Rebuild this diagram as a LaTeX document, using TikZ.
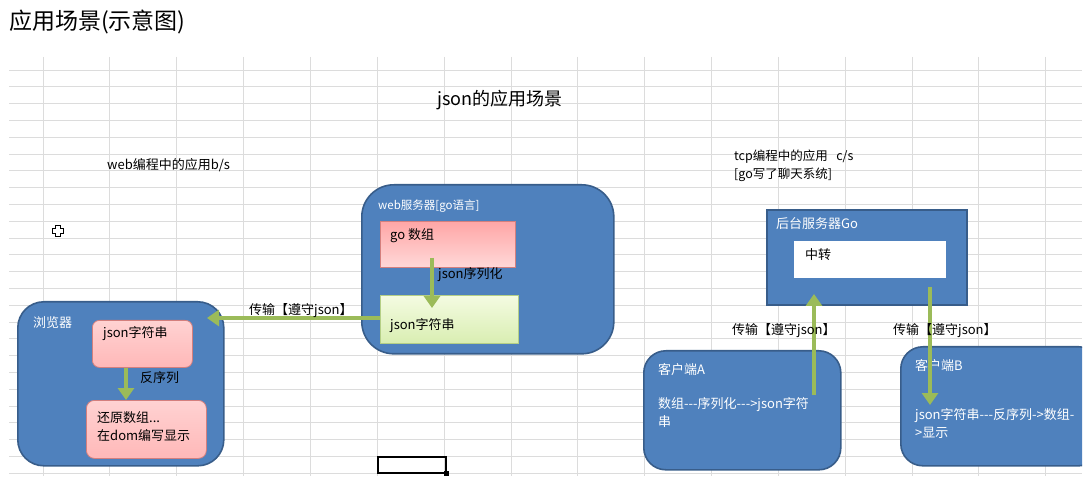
\documentclass[tikz,border=0pt]{standalone}
\usepackage{fontspec}
\setmainfont{Noto Sans CJK SC}
\usetikzlibrary{arrows.meta}
\definecolor{ofblue}{HTML}{4F81BD}
\definecolor{ofblueline}{HTML}{385D8A}
\definecolor{ofgreen}{HTML}{9BBB59}
\definecolor{pinkline}{HTML}{D47F7D}
\definecolor{pinktop}{HTML}{FFA6A6}
\definecolor{pinkbot}{HTML}{FFD8D8}
\definecolor{pinklight}{HTML}{FFD2D2}
\definecolor{pinkmid}{HTML}{FFB8B8}
\definecolor{greentop}{HTML}{F4FBE2}
\definecolor{greenbot}{HTML}{D9EEB2}
\definecolor{greenline}{HTML}{B5CF86}
\definecolor{gridcol}{HTML}{DCDCDC}
\begin{document}
\begin{tikzpicture}[x=1pt,y=-1pt,
  gridline/.style={draw=gridcol,line width=0.9pt},
  bluebox/.style={draw=ofblueline,fill=ofblue,line width=1.6pt,inner sep=0pt,anchor=north west},
  pinkbox/.style={draw=pinkline,line width=0.8pt,top color=pinklight,bottom color=pinkmid,inner sep=0pt,anchor=north west},
  pinksq/.style={draw=pinkline,line width=0.8pt,top color=pinktop,bottom color=pinkbot,inner sep=0pt,anchor=north west},
  greenbox/.style={draw=greenline,line width=0.8pt,top color=greentop,bottom color=greenbot,inner sep=0pt,anchor=north west},
  whitebox/.style={draw=white,fill=white,inner sep=0pt,anchor=north west},
  garrow/.style={draw=ofgreen,line width=4.5pt,-{Triangle[length=12pt,width=16pt]}},
  txt/.style={anchor=west,inner sep=0pt,font=\fontsize{13}{18}\selectfont,align=left},
  wtxt/.style={txt,text=white},
]
\useasboundingbox (0,0) rectangle (1088,481);
% spreadsheet grid
\foreach \k in {0,...,24} \draw[gridline] (9,{70+16.8*\k}) -- (1082,{70+16.8*\k});
\foreach \k in {0,...,15} \draw[gridline] ({43+66.85*\k},57) -- ({43+66.85*\k},476);

% headings
\node[txt,font=\fontsize{23}{28}\selectfont] (title) at (9,22) {应用场景(示意图)};
\node[txt,font=\fontsize{18}{22}\selectfont] (jtitle) at (437,100) {json的应用场景};
\node[txt,font=\fontsize{13}{18}\selectfont] (bs) at (107,165) {web编程中的应用b/s};
\node[txt,font=\fontsize{12.5}{18}\selectfont] (cs) at (734,166) {tcp编程中的应用\ \ \ c/s\\{}[go写了聊天系统]};

% cursor and selected cell
\draw[black,line width=1.1pt,fill=white] (55.5,225.5) -- (60.5,225.5) -- (60.5,228.5) -- (63.5,228.5) -- (63.5,233.5) -- (60.5,233.5) -- (60.5,236.5) -- (55.5,236.5) -- (55.5,233.5) -- (52.5,233.5) -- (52.5,228.5) -- (55.5,228.5) -- cycle;
\draw[black,line width=2pt] (378,457) rectangle (446,473);
\fill[black] (443.5,470.5) rectangle (448.5,475.5);

% browser
\node[bluebox,rounded corners=26pt,minimum width=206pt,minimum height=164pt] (browser) at (17,301) {};
\node[wtxt] (browserl) at (33,323) {浏览器};
\node[pinkbox,rounded corners=7pt,minimum width=100pt,minimum height=47pt] (bjson) at (92,320) {};
\node[txt] at (103,334) {json字符串};
\node[pinkbox,rounded corners=8pt,minimum width=120pt,minimum height=58pt] (restore) at (86,400) {};
\node[txt] at (97,427) {还原数组...\\在dom编写显示};
\node[txt] (deser) at (140,378) {反序列};
\draw[garrow] (bjson.south -| 126,0) -- (restore.north -| 126,0);

% web server
\node[bluebox,rounded corners=32pt,minimum width=252pt,minimum height=169pt] (web) at (361,184) {};
\node[wtxt,font=\fontsize{11.5}{14}\selectfont] (webl) at (378,206) {web服务器[go语言]};
\node[pinksq,minimum width=135pt,minimum height=46pt] (goarr) at (380,221) {};
\node[txt] at (390,236) {go 数组};
\node[greenbox,minimum width=138pt,minimum height=48pt] (sjson) at (380,295) {};
\node[txt] at (390,326) {json字符串};
\node[txt] (ser) at (438,275) {json序列化};
\coordinate (serA) at (432,258);
\coordinate (serB) at (432,308);
\draw[garrow] (serA) -- (serB);

% transfer to browser
\coordinate (toBrowser) at (207,318);
\draw[garrow] (sjson.west |- 0,318) -- (toBrowser);
\node[txt] (tr1) at (249,311) {传输【遵守json】};

% backend server
\node[bluebox,minimum width=200pt,minimum height=95pt] (backend) at (766,209) {};
\node[wtxt] (backendl) at (776,224) {后台服务器Go};
\node[whitebox,minimum width=151pt,minimum height=36pt] (relay) at (794,241) {};
\node[txt] at (805,255) {中转};

% client A
\node[bluebox,rounded corners=22pt,minimum width=197pt,minimum height=119pt] (cA) at (643,350) {};
\node[wtxt] at (658,370) {客户端A};
\node[wtxt] at (658,412.5) {数组-{}-{}-序列化-{}-{}->json字符\\串};

% client B (clipped by the page edge)
\begin{scope}
\clip (0,0) rectangle (1082,481);
\node[bluebox,rounded corners=22pt,minimum width=200pt,minimum height=119pt] (cB) at (900,346) {};
\end{scope}
\node[wtxt] at (915,366) {客户端B};
\node[wtxt] at (915,423.5) {json字符串-{}-{}-反序列->数组-\\>显示};

% transfers between clients and server
\coordinate (upA) at (814,395);
\coordinate (upB) at (814,294);
\draw[garrow] (upA) -- (upB);
\coordinate (dnA) at (930,287);
\coordinate (dnB) at (930,405);
\draw[garrow] (dnA) -- (dnB);
\node[txt] (tr2) at (732,331) {传输【遵守json】};
\node[txt] (tr3) at (893,331) {传输【遵守json】};
\end{tikzpicture}
\end{document}
